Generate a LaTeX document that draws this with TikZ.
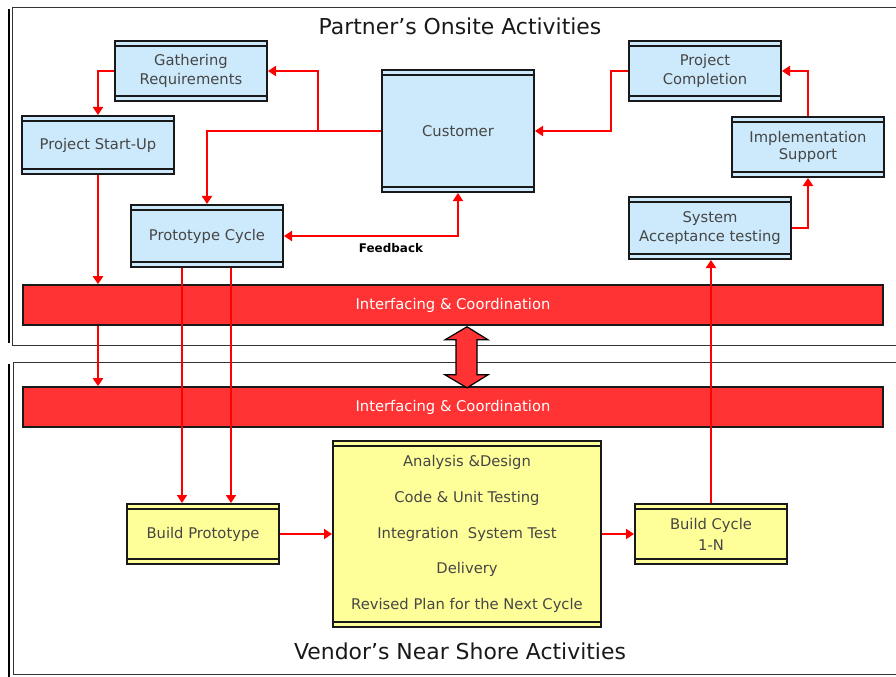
\documentclass[tikz,border=0pt]{standalone}
\usepackage{fontspec}
\setmainfont{DejaVu Sans}
\usetikzlibrary{arrows.meta,calc}

\definecolor{boxblue}{RGB}{204,234,252}
\definecolor{boxyellow}{RGB}{255,255,153}
\definecolor{bandred}{RGB}{255,51,51}
\definecolor{textgray}{RGB}{70,70,70}

\tikzset{
  x=1bp, y=-1bp,
  strip/.style={path picture={
      \draw[line width=1.6bp]
        ([yshift=-5bp]path picture bounding box.north west) --
        ([yshift=-5bp]path picture bounding box.north east);
      \draw[line width=1.6bp]
        ([yshift=5bp]path picture bounding box.south west) --
        ([yshift=5bp]path picture bounding box.south east);}},
  activity/.style={draw=black!90, line width=2bp, strip, inner sep=0pt,
    align=center, text=textgray,
    font=\fontsize{14.8}{19}\selectfont},
  onsite/.style={activity, fill=boxblue},
  nearshore/.style={activity, fill=boxyellow},
  band/.style={draw=black!90, line width=1.6bp, fill=bandred, text=white,
    minimum width=860bp, minimum height=40bp, inner sep=0pt,
    font=\fontsize{14.8}{17}\selectfont},
  redtip/.tip={Triangle[width=10bp,length=8bp]},
  flow/.style={draw=red, line width=2bp, -redtip},
  frameline/.style={draw=black!80, line width=1.5bp},
  shadowline/.style={draw=black, line width=2bp},
  heading/.style={font=\fontsize{22}{26}\selectfont, text=black!90},
}

\begin{document}
\begin{tikzpicture}
\useasboundingbox (0,0) rectangle (896,677);

% frames of the two activity areas
\draw[frameline] (897,7.5) -- (12.5,7.5) -- (12.5,345.5) -- (897,345.5);
\draw[shadowline] (9,9) -- (9,343);
\draw[frameline] (897,362.5) -- (13.5,362.5) -- (13.5,674.5) -- (897,674.5);
\draw[shadowline] (9,364) -- (9,677);

% headings
\node[heading] (onsiteTitle) at (460,26) {Partner’s Onsite Activities};
\node[heading] (shoreTitle) at (460,651) {Vendor’s Near Shore Activities};

% coordination bands
\node[band] (band1) at (453,305) {Interfacing \& Coordination};
\node[band] (band2) at (453,407) {Interfacing \& Coordination};

% two-way link between the bands
\draw[draw=black, line width=1.2bp, fill=bandred, line join=miter]
  ($(band1.south)+(14,1)$) -- ++(21,13) -- ++(-11,0) -- ++(0,35)
  -- ++(11,0) -- ++(-21,13) -- ++(-22,-13) -- ++(11,0) -- ++(0,-35)
  -- ++(-11,0) -- cycle;

% onsite activities
\node[onsite, minimum width=152bp, minimum height=60bp] (gath) at (191,71)
  {Gathering\\Requirements};
\node[onsite, minimum width=152bp, minimum height=58bp] (start) at (98,145)
  {Project Start-Up};
\node[onsite, minimum width=152bp, minimum height=62bp] (proto) at (207,236)
  {Prototype Cycle};
\node[onsite, minimum width=152bp, minimum height=122bp] (cust) at (458,131)
  {Customer};
\node[onsite, minimum width=152bp, minimum height=60bp] (compl) at (705,71)
  {Project\\Completion};
\node[onsite, minimum width=152bp, minimum height=60bp,
  font=\fontsize{14.8}{17}\selectfont] (impl) at (808,147)
  {Implementation\\Support};
\node[onsite, minimum width=162bp, minimum height=62bp] (sys) at (710,228)
  {System\\Acceptance testing};

% near shore activities
\node[nearshore, minimum width=152bp, minimum height=60bp] (bproto) at (203,534)
  {Build Prototype};
\node[nearshore, minimum width=268bp, minimum height=186bp,
  font=\fontsize{14.8}{36}\selectfont] (cycle) at (467,534)
  {Analysis \&Design\\Code \& Unit Testing\\Integration\ \ System Test\\Delivery\\Revised Plan for the Next Cycle};
\node[nearshore, minimum width=152bp, minimum height=60bp,
  font=\fontsize{14.8}{21}\selectfont] (bcyc) at (711,534)
  {Build Cycle\\1-N};

% bend points of the connectors
\coordinate (jl) at (318,131);
\coordinate (jr) at (611,131);
\coordinate (gathBend) at (318,71);
\coordinate (protoBend) at (207,131);
\coordinate (startBend) at (98,71);
\coordinate (fbBend) at (458,236);
\coordinate (complBend) at (611,71);
\coordinate (implBend) at (808,71);
\coordinate (sysBend) at (808,228);

% connectors
\draw[flow] (cust.west) -- (jl) -- (gathBend) -- (gath.east);
\draw[flow] (jl) -- (protoBend) -- (proto.north);
\draw[flow] (gath.west) -- (startBend) -- (start.north);
\draw[flow] (start.south) -- (start.south |- band1.north);
\draw[flow] (start.south |- band1.south) -- (start.south |- band2.north);
\draw[flow] ([xshift=-25bp]proto.south) -- ([xshift=-25bp]proto.south |- bproto.north);
\draw[flow] ([xshift=24bp]proto.south) -- ([xshift=24bp]proto.south |- bproto.north);
\draw[flow, redtip-redtip] (proto.east) -- (fbBend) -- (cust.south);
\node[font=\bfseries\fontsize{12}{14}\selectfont, text=black] (fb) at (391,248) {Feedback};
\draw[flow] (compl.west) -- (complBend) -- (jr) -- (cust.east);
\draw[flow] (impl.north) -- (implBend) -- (compl.east);
\draw[flow] (sys.east) -- (sysBend) -- (impl.south);
\draw[flow] (bcyc.north) -- (bcyc.north |- sys.south);
\draw[flow] (bproto.east) -- (cycle.west);
\draw[flow] (cycle.east) -- (bcyc.west);
\end{tikzpicture}
\end{document}
